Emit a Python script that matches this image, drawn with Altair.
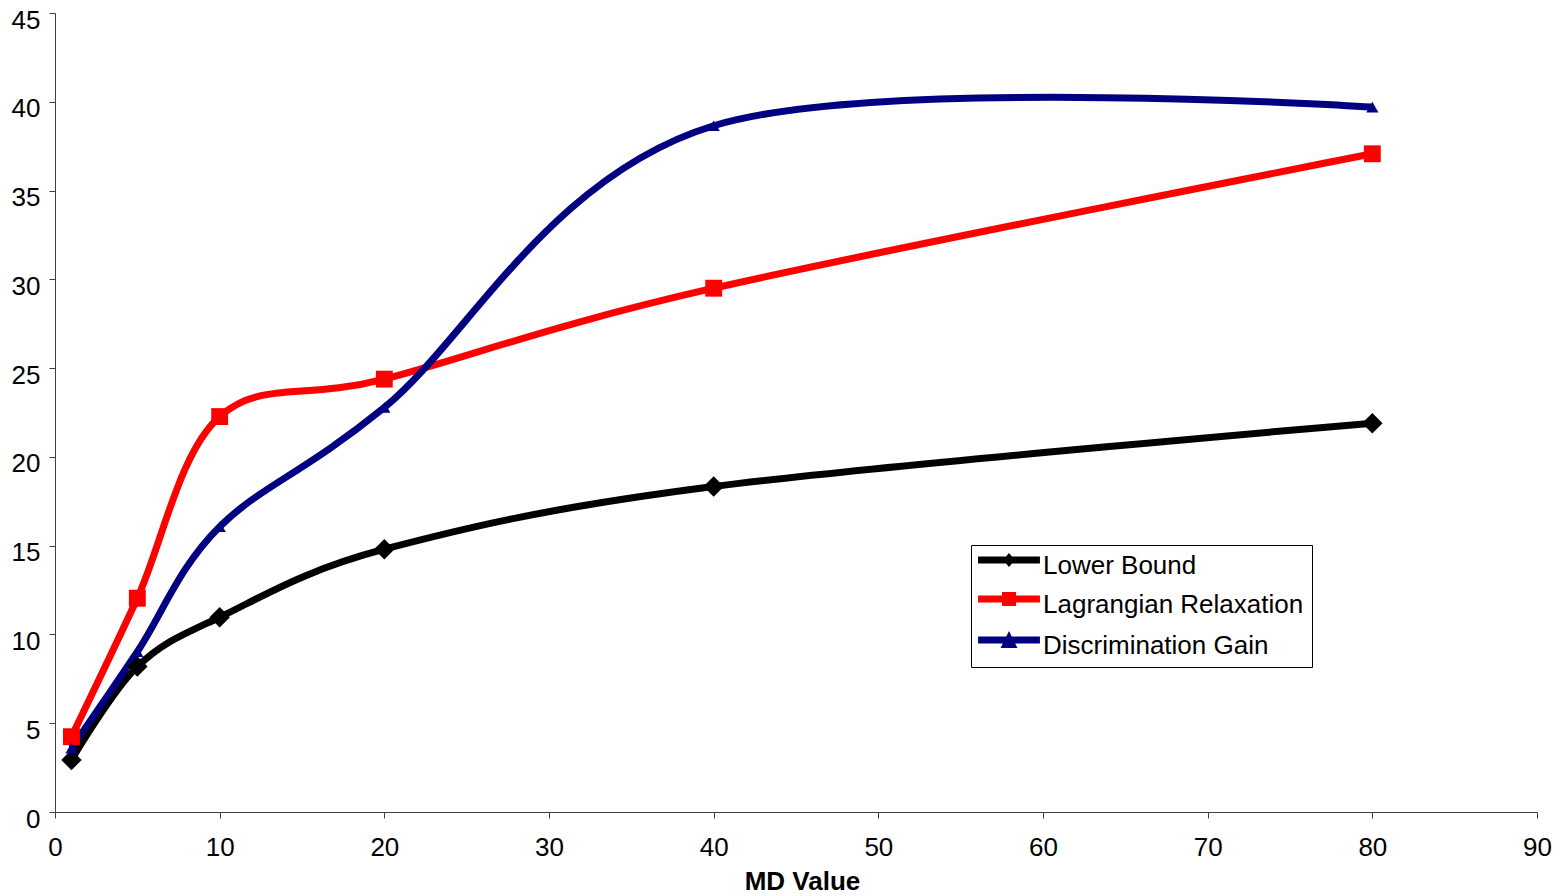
import altair as alt
import pandas as pd

md_values = [1, 5, 10, 20, 40, 80]
lower_bound = [2.93, 8.19, 10.97, 14.8, 18.33, 21.9]
lagrangian = [4.24, 12.04, 22.27, 24.38, 29.5, 37.07]
discrimination = [3.6, 9.03, 16.07, 22.78, 38.65, 39.7]
series_names = ["Lower Bound", "Lagrangian Relaxation", "Discrimination Gain"]
series_colors = ["#000000", "#FF0000", "#000080"]
series_shapes = ["diamond", "square", "triangle-up"]
series_sizes = [420, 150, 330]

# legend symbols: a thick line with the series marker on it (unit = 13 px)
bar = "M-2.38,-0.73L2.38,-0.73L2.38,-0.19L-2.38,-0.19Z"
legend_paths = [
    bar + "M0,-1.0L0.46,-0.46L0,0.08L-0.46,-0.46Z",
    bar + "M-0.54,-1.0L0.54,-1.0L0.54,0.08L-0.54,0.08Z",
    bar + "M0,-1.15L0.65,0.155L-0.65,0.155Z",
]

rows = []
for name, vals in zip(series_names, [lower_bound, lagrangian, discrimination]):
    for x, y in zip(md_values, vals):
        rows.append({"MD": x, "value": y, "series": name, "series_leg": name})
df = pd.DataFrame(rows)

legend = alt.Legend(
    title=None, orient="none", legendX=916, legendY=532,
    labelFont="Liberation Sans", labelFontSize=26, labelColor="#000000", labelLimit=600,
    symbolSize=676, symbolStrokeWidth=0, symbolOpacity=1, symbolOffset=17, labelOffset=21,
    rowPadding=13, padding=8, strokeColor="#000000",
)

axis_color = "#404040"
xenc = alt.X("MD:Q", title="MD Value",
             scale=alt.Scale(domain=[0, 90], nice=False),
             axis=alt.Axis(values=list(range(0, 91, 10)), grid=False, domainColor=axis_color,
                           tickColor=axis_color, tickSize=6, labelFont="Liberation Sans",
                           labelFontSize=26, labelPadding=16, labelColor="#000000",
                           labelFlush=False,
                           titleFont="Liberation Sans", titleFontSize=26, titleFontWeight="bold",
                           titlePadding=8, titleColor="#000000", titleX=747, titleAlign="center"))
yenc = alt.Y("value:Q", title=None,
             scale=alt.Scale(domain=[0, 45], nice=False),
             axis=alt.Axis(values=list(range(0, 46, 5)), grid=False, domainColor=axis_color,
                           tickColor=axis_color, tickSize=6, labelFont="Liberation Sans",
                           labelFontSize=26, labelPadding=9, labelColor="#000000",
                           labelFlush=False, labelOffset=7))

color_scale = alt.Scale(domain=series_names, range=series_colors)

lines = alt.Chart(df).mark_line(interpolate="cardinal", tension=0, strokeWidth=7).encode(
    x=xenc, y=yenc, color=alt.Color("series:N", scale=color_scale, legend=None))
points = alt.Chart(df).mark_point(filled=True, opacity=1).encode(
    x=alt.X("MD:Q"), y=alt.Y("value:Q"),
    color=alt.Color("series:N", scale=color_scale, legend=None),
    shape=alt.Shape("series:N", scale=alt.Scale(domain=series_names, range=series_shapes), legend=None),
    size=alt.Size("series:N", scale=alt.Scale(domain=series_names, range=series_sizes), legend=None))
legend_layer = alt.Chart(df).mark_point(filled=True, opacity=0, strokeWidth=0).encode(
    x=alt.X("MD:Q"), y=alt.Y("value:Q"),
    color=alt.Color("series_leg:N", scale=alt.Scale(domain=series_names, range=series_colors), legend=legend),
    shape=alt.Shape("series_leg:N", scale=alt.Scale(domain=series_names, range=legend_paths), legend=legend))

chart = alt.layer(lines, points, legend_layer).resolve_scale(
    color="independent", shape="independent", size="independent"
).resolve_legend(color="independent", shape="independent").properties(
    width=1482, height=799,
    background="white",
    autosize=alt.AutoSizeParams(type="none"),
    padding={"left": 55, "top": 13, "right": 30, "bottom": 84},
).configure_view(stroke=None)

chart.save("out.html", embed_options={"renderer": "svg", "actions": False})
